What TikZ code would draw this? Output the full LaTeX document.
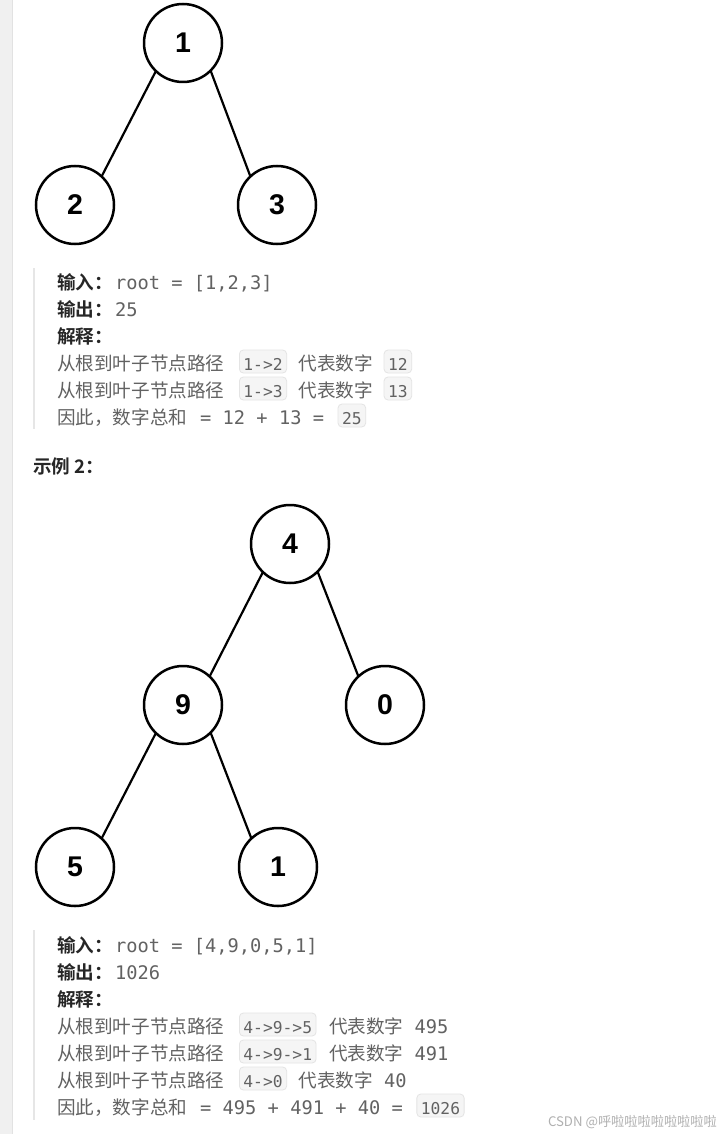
\documentclass[tikz,border=0pt]{standalone}
\usepackage{fontspec}
\newfontfamily\cjk{Noto Sans CJK SC}[BoldFont={Noto Sans CJK SC Bold}]
\newfontfamily\monof{DejaVu Sans Mono}
\newfontfamily\numf{Liberation Sans}
\definecolor{txt}{HTML}{626262}
\definecolor{lbl}{HTML}{262626}
\definecolor{codebg}{HTML}{F5F5F5}
\definecolor{codeborder}{HTML}{E4E4E4}
\definecolor{barc}{HTML}{E6E6E6}
\definecolor{stripc}{HTML}{F0F0F0}
\definecolor{stripb}{HTML}{E2E2E2}
\definecolor{wmc}{HTML}{B0B0B0}
\tikzset{
  tnode/.style={circle, draw=black, line width=2.5pt, minimum size=78pt, inner sep=0pt, outer sep=0pt,
    font=\numf\bfseries\fontsize{28.5}{31}\selectfont},
  tedge/.style={line width=2.2pt},
  body/.style={anchor=base west, inner sep=0pt, outer sep=0pt, text=txt, font=\cjk\fontsize{18.6}{22}\selectfont},
  lab/.style={body, text=lbl, font=\cjk\bfseries\fontsize{18.6}{22}\selectfont},
  val/.style={body, font=\monof\fontsize{18.7}{22}\selectfont},
  codebox/.style={anchor=base west, draw=codeborder, fill=codebg, rounded corners=4pt, line width=0.8pt,
    inner xsep=4pt, inner ysep=3pt, text height=17pt, text depth=0pt, outer sep=0pt, text=txt,
    font=\monof\fontsize{16.3}{18}\selectfont},
  quotebar/.style={draw=barc, line width=2.5pt},
  wmark/.style={anchor=base east, inner sep=0pt, text=wmc, font=\cjk\fontsize{13.2}{15}\selectfont}
}
\begin{document}
\begin{tikzpicture}[x=1pt,y=-1pt]
\useasboundingbox (0,0) rectangle (727,1134);
\fill[white] (0,0) rectangle (727,1134);
% left strip
\fill[stripc] (0,0) rectangle (12,1134);
\draw[stripb, line width=0.8pt] (12,0) -- (12,1134);

% ---------- tree 1 ----------
\node[tnode] (t1) at (183,43) {1};
\node[tnode] (t2) at (75,205) {2};
\node[tnode] (t3) at (277,205) {3};
\draw[tedge] (t1.226) -- (t2.47);
\draw[tedge] (t1.-45) -- (t3.133);

% ---------- block 1 ----------
\coordinate (b1top) at (34,268);
\coordinate (b1bot) at (34,429);
\draw[quotebar] (b1top) -- (b1bot);

\node[lab] (a1) at (57,289) {输入：};
\node[val] (a1v) at (115,289) {root = [1,2,3]};
\node[lab] (a2) at (57,316) {输出：};
\node[val] (a2v) at (115,316) {25};
\node[lab] (a3) at (57,343) {解释：};

\node[body] (a4) at (57,370) {从根到叶子节点路径};
\node[codebox] (a4b) at ([xshift=15pt]a4.base east) {1->2};
\node[body] (a4c) at ([xshift=12pt]a4b.base east) {代表数字};
\node[codebox] (a4d) at ([xshift=11pt]a4c.base east) {12};

\node[body] (a5) at (57,397) {从根到叶子节点路径};
\node[codebox] (a5b) at ([xshift=15pt]a5.base east) {1->3};
\node[body] (a5c) at ([xshift=12pt]a5b.base east) {代表数字};
\node[codebox] (a5d) at ([xshift=11pt]a5c.base east) {13};

\node[body] (a6) at (57,424) {因此，数字总和};
\node[val] (a6v) at ([xshift=13pt]a6.base east) {= 12 + 13 =};
\node[codebox] (a6b) at ([xshift=14pt]a6v.base east) {25};

% ---------- example 2 heading ----------
\node[lab] (ex2) at (33,473) {示例 2：};

% ---------- tree 2 ----------
\node[tnode] (u4) at (290,544) {4};
\node[tnode] (u9) at (183,705) {9};
\node[tnode] (u0) at (385,705) {0};
\node[tnode] (u5) at (75,867) {5};
\node[tnode] (u1) at (278,867) {1};
\draw[tedge] (u4.226) -- (u9.47);
\draw[tedge] (u4.-45) -- (u0.133);
\draw[tedge] (u9.226) -- (u5.47);
\draw[tedge] (u9.-45) -- (u1.133);

% ---------- block 2 ----------
\coordinate (b2top) at (34,930);
\coordinate (b2bot) at (34,1120);
\draw[quotebar] (b2top) -- (b2bot);

\node[lab] (c1) at (57,952) {输入：};
\node[val] (c1v) at (115,952) {root = [4,9,0,5,1]};
\node[lab] (c2) at (57,979) {输出：};
\node[val] (c2v) at (115,979) {1026};
\node[lab] (c3) at (57,1006) {解释：};

\node[body] (c4) at (57,1033) {从根到叶子节点路径};
\node[codebox] (c4b) at ([xshift=15pt]c4.base east) {4->9->5};
\node[body] (c4c) at ([xshift=13pt]c4b.base east) {代表数字};
\node[val] (c4d) at ([xshift=11pt]c4c.base east) {495};

\node[body] (c5) at (57,1060) {从根到叶子节点路径};
\node[codebox] (c5b) at ([xshift=15pt]c5.base east) {4->9->1};
\node[body] (c5c) at ([xshift=13pt]c5b.base east) {代表数字};
\node[val] (c5d) at ([xshift=11pt]c5c.base east) {491};

\node[body] (c6) at (57,1087) {从根到叶子节点路径};
\node[codebox] (c6b) at ([xshift=15pt]c6.base east) {4->0};
\node[body] (c6c) at ([xshift=12pt]c6b.base east) {代表数字};
\node[val] (c6d) at ([xshift=11pt]c6c.base east) {40};

\node[body] (c7) at (57,1114) {因此，数字总和};
\node[val] (c7v) at ([xshift=13pt]c7.base east) {= 495 + 491 + 40 =};
\node[codebox] (c7b) at ([xshift=14pt]c7v.base east) {1026};

% watermark
\node[wmark] (wm) at (717,1126) {CSDN @呼啦啦啦啦啦啦啦啦};
\end{tikzpicture}
\end{document}
